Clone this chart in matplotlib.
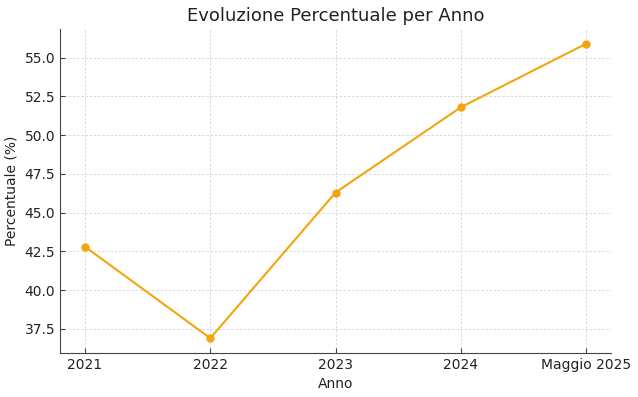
import matplotlib
matplotlib.use("Agg")
import matplotlib.pyplot as plt

# Data
anni = ["2021", "2022", "2023", "2024", "Maggio 2025"]
percentuali = [42.8, 36.9, 46.3, 51.8, 55.9]

fig, ax = plt.subplots(figsize=(6.38, 3.97), dpi=100)

ax.plot(anni, percentuali, color="#f2a60d", marker="o", markersize=5, linewidth=1.5)

ax.set_title("Evoluzione Percentuale per Anno", fontsize=13, color="#222222")
ax.set_xlabel("Anno", fontsize=10, color="#222222")
ax.set_ylabel("Percentuale (%)", fontsize=10, color="#222222")

ax.grid(True, linestyle=(0, (3, 2)), color="#d4d4d4", linewidth=0.6)
ax.set_axisbelow(True)
for side in ("top", "right"):
    ax.spines[side].set_visible(False)
for side in ("left", "bottom"):
    ax.spines[side].set_color("#444444")
ax.tick_params(direction="in", labelsize=10, colors="#444444", labelcolor="#222222")

fig.subplots_adjust(left=0.094, right=0.958, top=0.927, bottom=0.111)
fig.savefig("out.png", dpi=100)
